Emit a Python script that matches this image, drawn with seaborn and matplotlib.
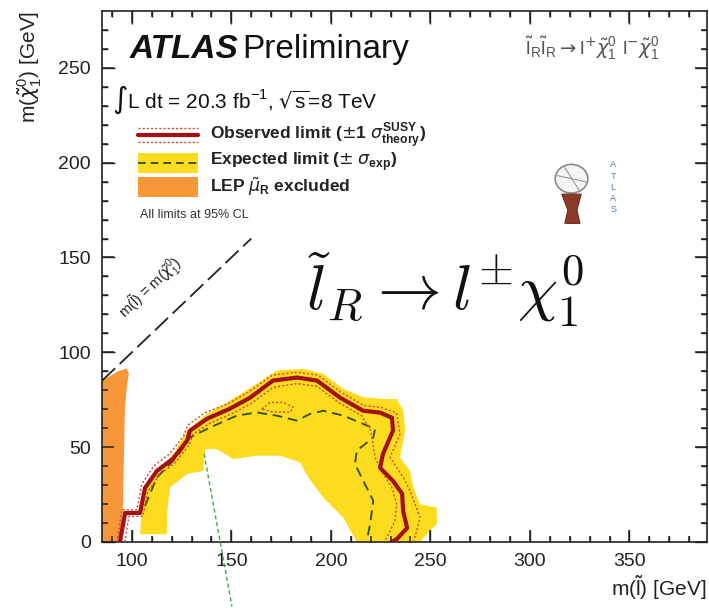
import numpy as np
import pandas as pd
import matplotlib
matplotlib.use("Agg")
import matplotlib.pyplot as plt
import seaborn as sns
from matplotlib.patches import Rectangle, Circle, Polygon

# ---------------- data (GeV) ----------------
obs_x = [94.0, 96.6, 104.1, 106.6, 112.6, 120.7, 127.7, 129.2, 137.8, 149.3, 159.4, 170.9, 183.0,
         193.0, 204.6, 216.2, 224.7, 230.7, 231.2, 226.2, 224.7, 231.2, 235.8, 236.3, 238.3, 233.2, 230.7]
obs_y = [0.0, 15.3, 15.3, 28.5, 37.5, 43.9, 53.4, 58.7, 65.0, 70.3, 76.1, 85.1, 86.7,
         85.1, 76.1, 69.2, 68.2, 65.5, 58.7, 46.5, 39.1, 32.2, 25.4, 16.4, 7.4, 1.6, 0.0]

thup_x = [92.5, 95.0, 102.5, 105.0, 111.0, 119.0, 126.0, 128.0, 136.5, 148.5, 158.5, 170.5, 183.0,
          193.5, 205.0, 216.5, 225.0, 233.0, 234.7, 229.7, 236.4, 239.8, 242.3, 244.8, 243.1, 241.4]
thup_y = [0.0, 17.0, 17.0, 30.5, 40.0, 46.5, 56.0, 61.5, 68.0, 73.0, 79.0, 88.0, 89.5,
          88.0, 79.0, 72.0, 71.0, 68.0, 56.9, 44.6, 34.0, 27.0, 19.9, 12.8, 5.8, 0.0]

thdn_x = [96.5, 98.5, 105.5, 108.0, 114.0, 122.0, 129.0, 130.5, 139.0, 150.0, 160.0, 171.0, 183.0,
          193.0, 204.0, 215.5, 220.0, 222.2, 226.4, 230.6, 233.1, 232.2, 228.1, 226.4]
thdn_y = [0.0, 13.5, 13.5, 26.5, 35.5, 42.0, 51.5, 56.5, 62.5, 67.5, 73.0, 81.5, 83.5,
          82.0, 73.5, 66.5, 58.7, 44.6, 35.8, 28.7, 19.9, 11.1, 2.3, 0.0]

island_x = [165.3, 169.4, 176.1, 181.1, 179.5, 171.1, 165.3]
island_y = [70.1, 73.6, 73.6, 71.0, 68.4, 68.4, 70.1]

exp_x = [106.6, 112.5, 122.5, 129.2, 139.3, 152.7, 162.7, 172.8, 182.8, 189.5, 196.2, 206.3,
         216.3, 222.2, 221.3, 213.0, 212.1, 216.3, 221.3, 219.7, 218.0]
exp_y = [19.0, 34.0, 44.6, 55.1, 60.4, 66.6, 68.3, 66.6, 64.0, 67.5, 69.2, 66.6,
         62.2, 59.6, 55.1, 48.1, 41.1, 32.2, 21.7, 9.4, 0.5]

band_outer_x = [104.1, 105.8, 112.5, 120.8, 127.6, 137.6, 149.3, 162.7, 172.8, 186.2, 196.2, 206.3,
                216.3, 226.4, 233.1, 236.4, 237.3, 234.7, 239.8, 241.4, 244.8, 253.2, 253.2, 246.5, 244.8]
band_outer_y = [4.1, 28.7, 37.5, 46.3, 58.7, 67.5, 74.5, 83.4, 90.4, 91.3, 88.6, 80.7,
                76.3, 75.4, 75.4, 69.2, 58.7, 44.6, 37.5, 28.7, 19.9, 18.1, 9.4, 2.3, 0.0]
band_inner_x = [213.0, 206.3, 196.2, 188.7, 184.5, 174.4, 162.7, 151.0, 142.6, 136.8, 135.9,
                127.6, 119.2, 117.8, 117.5]
band_inner_y = [0.0, 12.8, 23.4, 34.0, 41.9, 45.5, 45.5, 43.7, 49.0, 49.0, 37.5,
                35.8, 28.7, 16.4, 4.1]

lep_x = [85.0, 95.0, 95.5, 96.0, 96.5, 97.5, 98.5, 97.5, 93.0, 85.0]
lep_y = [0.0, 0.0, 20.0, 45.0, 70.0, 82.0, 89.0, 91.5, 90.0, 85.0]

diag_x = [85.0, 160.0]
diag_y = [85.0, 160.0]

green_x = [136.3, 150.3]
green_y = [46.5, -34.0]

x_ticks = [100, 150, 200, 250, 300, 350]
y_ticks = [0, 50, 100, 150, 200, 250]
x_minor = [v for v in range(90, 390, 10) if v not in x_ticks]
y_minor = [v for v in range(10, 280, 10) if v not in y_ticks]

# ---------------- style ----------------
sns.set_theme(style="ticks")
plt.rcParams["font.family"] = ["Liberation Sans", "DejaVu Sans"]

YEL = "#FDDB1F"
ORANGE = "#F8963A"
RED = "#A3101A"
DOT = "#D2492A"
EXPC = "#3B5530"
INK = "#222222"

fig = plt.figure(figsize=(7.09, 6.08), dpi=100)
ax = fig.add_axes([0.1439, 0.1086, 0.8533, 0.8734])

# filled regions
ax.fill(band_outer_x + band_inner_x, band_outer_y + band_inner_y, color=YEL, lw=0, zorder=1)
ax.fill(lep_x, lep_y, color=ORANGE, lw=0, zorder=2)

# lines
def line(x, y, **kw):
    df = pd.DataFrame({"x": x, "y": y})
    sns.lineplot(data=df, x="x", y="y", sort=False, estimator=None, ax=ax, **kw)
    return ax.lines[-1]

line(exp_x, exp_y, color=EXPC, lw=1.4, linestyle=(0, (5, 3)), zorder=3)
line(thup_x, thup_y, color=DOT, lw=1.0, linestyle=(0, (1.5, 1.5)), zorder=4)
line(thdn_x, thdn_y, color=DOT, lw=1.0, linestyle=(0, (1.5, 1.5)), zorder=4)
line(island_x, island_y, color=DOT, lw=1.0, linestyle=(0, (1.5, 1.5)), zorder=4)
line(obs_x, obs_y, color=RED, lw=3.0, zorder=5)
line(diag_x, diag_y, color=INK, lw=1.3, linestyle=(0, (10, 3.5)), zorder=3)
gl = line(green_x, green_y, color="#3DAA4A", lw=1.0, linestyle=(0, (3, 2)), zorder=6)
gl.set_clip_on(False)

ax.set_xlim(85, 389)
ax.set_ylim(0, 280)

ax.set_xlabel(r"m($\tilde{\mathregular{l}}$) [GeV]", loc="right", fontsize=15, labelpad=2, color=INK)
ax.set_ylabel(r"m($\tilde{\chi}_{\mathregular{1}}^{\mathregular{0}}$) [GeV]", loc="top", fontsize=15,
              labelpad=10, color=INK)

T = ax.transAxes
ax.text(0.046, 0.927, "ATLAS", transform=T, fontsize=24, fontweight="bold", style="italic",
        va="center", ha="left", color="#111111")
ax.text(0.232, 0.927, "Preliminary", transform=T, fontsize=24, va="center", ha="left", color="#111111")
ax.text(0.016, 0.832, r"$\int$L dt = 20.3 fb$^{\mathregular{-1}}$, $\sqrt{\mathregular{s}}$=8 TeV",
        transform=T, fontsize=15, va="center", ha="left", color="#111111")

# legend
ax.plot([0.06, 0.159], [0.766, 0.766], transform=T, color=RED, lw=3.0)
ax.plot([0.06, 0.159], [0.779, 0.779], transform=T, color=DOT, lw=1.0, ls=(0, (1.5, 1.5)))
ax.plot([0.06, 0.159], [0.753, 0.753], transform=T, color=DOT, lw=1.0, ls=(0, (1.5, 1.5)))
ax.add_patch(Rectangle((0.06, 0.695), 0.099, 0.037, transform=T, color=YEL, lw=0))
ax.plot([0.06, 0.159], [0.7135, 0.7135], transform=T, color=EXPC, lw=1.4, ls=(0, (4, 2.5)))
ax.add_patch(Rectangle((0.06, 0.65), 0.099, 0.037, transform=T, color=ORANGE, lw=0))
ax.text(0.178, 0.766, r"Observed limit ($\pm$1 $\sigma^{\mathregular{SUSY}}_{\mathregular{theory}}$)",
        transform=T, fontsize=12.5, fontweight="bold", va="center", ha="left", color=INK)
ax.text(0.178, 0.716, r"Expected limit ($\pm$ $\sigma_{\mathregular{exp}}$)",
        transform=T, fontsize=12.5, fontweight="bold", va="center", ha="left", color=INK)
ax.text(0.178, 0.668, r"LEP $\tilde{\mu}_{\mathregular{R}}$ excluded",
        transform=T, fontsize=12.5, fontweight="bold", va="center", ha="left", color=INK)
ax.text(0.063, 0.616, "All limits at 95% CL", transform=T, fontsize=9, va="center", ha="left",
        color="#333333")

# process label top right
ax.text(0.81, 0.93, r"$\tilde{\mathregular{l}}_{\mathregular{R}}\tilde{\mathregular{l}}_{\mathregular{R}}\rightarrow"
        r" \mathregular{l}^{+}\tilde{\chi}_{\mathregular{1}}^{\mathregular{0}}\ \mathregular{l}^{-}"
        r"\tilde{\chi}_{\mathregular{1}}^{\mathregular{0}}$",
        transform=T, fontsize=14, va="center", ha="center", color="#555555")

# diagonal label
ax.text(109.5, 134.0, r"m($\tilde{\mathregular{l}}$) = m($\tilde{\chi}_{\mathregular{1}}^{\mathregular{0}}$)",
        fontsize=10.5, rotation=43.6, rotation_mode="anchor", ha="center", va="center", color=INK)

# big decay label
ax.text(0.567, 0.475, r"$\tilde{l}_R \rightarrow l^{\pm}\chi_1^0$", transform=T, fontsize=46,
        math_fontfamily="cm", ha="center", va="center", color="#111111")

# small ATLAS logo
ax.add_patch(Circle((0.776, 0.684), 0.027, transform=T, fc="#f4f4f4", ec="#8a8a8a", lw=1.2))
ax.plot([0.752, 0.8], [0.69, 0.678], transform=T, color="#9a9a9a", lw=0.8)
ax.plot([0.765, 0.79], [0.705, 0.66], transform=T, color="#9a9a9a", lw=0.8)
ax.add_patch(Polygon([(0.76, 0.655), (0.792, 0.655), (0.785, 0.625), (0.79, 0.6),
                      (0.765, 0.6), (0.77, 0.625)], closed=True, transform=T,
                     fc="#8B3A2A", ec="#6B2A1A", lw=0.8))
for i, ch in enumerate("ATLAS"):
    ax.text(0.845, 0.71 - i * 0.021, ch, transform=T, fontsize=6.5, color="#4A7FC0",
            ha="center", va="center")

# ---------------- axes frame & ticks ----------------
for s in ax.spines.values():
    s.set_linewidth(1.2)
    s.set_color(INK)
ax.set_xticks(x_ticks)
ax.set_yticks(y_ticks)
ax.set_xticks(x_minor, minor=True)
ax.set_yticks(y_minor, minor=True)
ax.tick_params(which="both", direction="in", top=True, right=True, bottom=True, left=True,
               width=1.0, color=INK)
ax.tick_params(which="major", length=9, pad=8, labelsize=14, labelcolor=INK)
ax.tick_params(which="minor", length=4.5)

# inward frame ticks drawn as plain Line2D paths (one per tick) along the axis transforms
XT = ax.get_xaxis_transform()
YT = ax.get_yaxis_transform()
for vals, L in ((x_ticks, 0.0226), (x_minor, 0.0113)):
    for v in vals:
        ax.plot([v, v], [0.0, L], transform=XT, color=INK, lw=1.1, solid_capstyle="butt", zorder=8)
        ax.plot([v, v], [1.0 - L, 1.0], transform=XT, color=INK, lw=1.1, solid_capstyle="butt", zorder=8)
for vals, L in ((y_ticks, 0.0198), (y_minor, 0.0099)):
    for v in vals:
        ax.plot([0.0, L], [v, v], transform=YT, color=INK, lw=1.1, solid_capstyle="butt", zorder=8)
        ax.plot([1.0 - L, 1.0], [v, v], transform=YT, color=INK, lw=1.1, solid_capstyle="butt", zorder=8)

ax.set_xlim(85, 389)
ax.set_ylim(0, 280)
fig.savefig("out.png", dpi=100)
